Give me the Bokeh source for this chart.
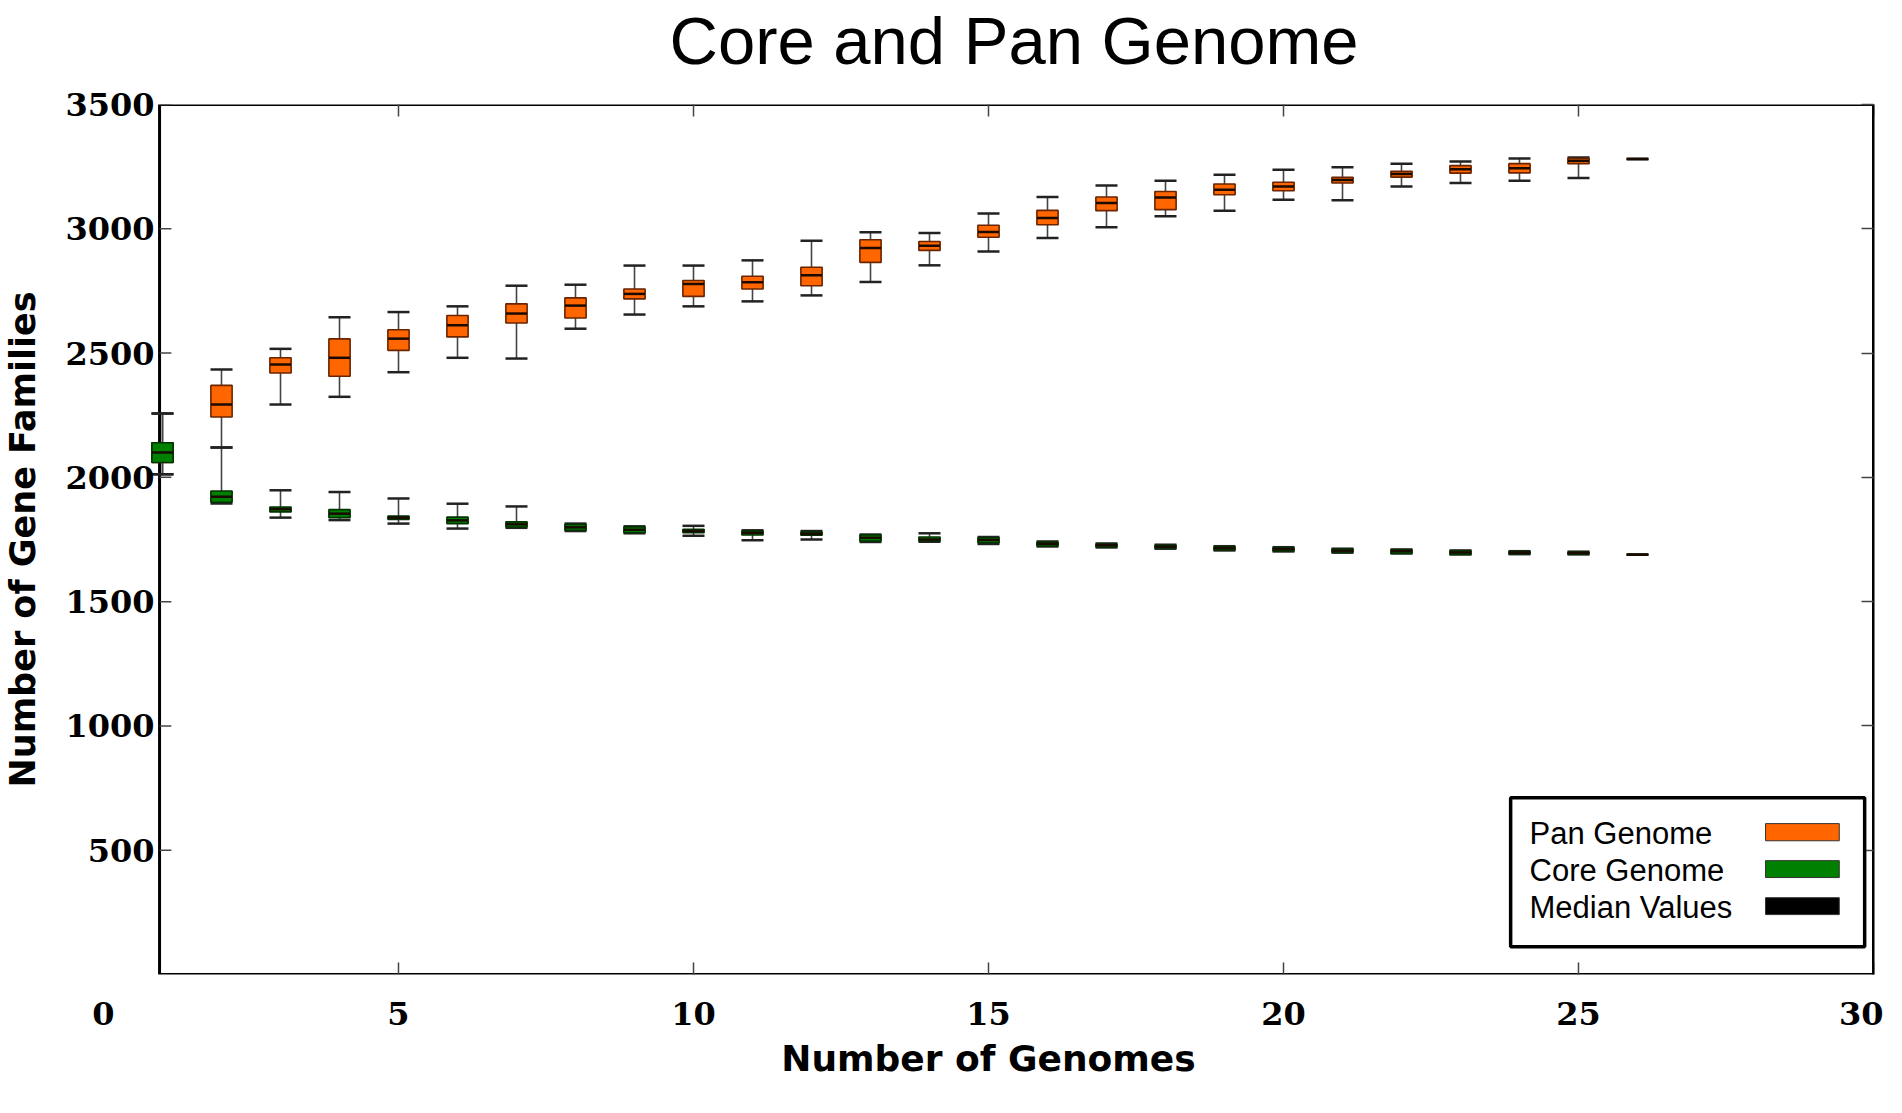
from bokeh.plotting import figure
from bokeh.models import (Range1d, FixedTicker, LinearAxis, CustomJSTickFormatter,
                          Label, BoxAnnotation, ColumnDataSource)
from bokeh.embed import file_html
from bokeh.resources import INLINE

# ---------------- data ----------------
genomes = list(range(1, 27))

pan_low = [2012, 2120, 2293, 2324, 2423, 2481, 2478, 2598, 2655, 2688, 2708, 2732, 2786,
           2853, 2909, 2963, 3006, 3050, 3073, 3117, 3115, 3170, 3184, 3193, 3204, 3281]
pan_q1 = [2060, 2243, 2420, 2407, 2511, 2565, 2621, 2641, 2718, 2728, 2758, 2771, 2865,
          2913, 2966, 3016, 3073, 3077, 3137, 3153, 3184, 3208, 3224, 3225, 3262, 3281]
pan_med = [2100, 2293, 2454, 2481, 2558, 2612, 2659, 2691, 2738, 2778, 2785, 2813, 2923,
           2932, 2987, 3043, 3104, 3126, 3157, 3170, 3196, 3220, 3240, 3244, 3274, 3281]
pan_q3 = [2139, 2370, 2481, 2557, 2594, 2651, 2698, 2722, 2758, 2792, 2809, 2845, 2956,
          2949, 3014, 3074, 3128, 3150, 3180, 3187, 3207, 3231, 3254, 3262, 3284, 3281]
pan_high = [2257, 2434, 2517, 2644, 2665, 2688, 2771, 2775, 2852, 2852, 2873, 2952, 2986,
            2983, 3061, 3128, 3174, 3193, 3217, 3237, 3248, 3262, 3271, 3283, 3287, 3281]

core_low = [2012, 1895, 1838, 1828, 1814, 1794, 1797, 1784, 1775, 1765, 1747, 1750, 1740,
            1741, 1732, 1722, 1718, 1713, 1706, 1702, 1697, 1694, 1690, 1691, 1690, 1689]
core_q1 = [2060, 1900, 1861, 1838, 1831, 1814, 1800, 1787, 1777, 1777, 1768, 1767, 1744,
           1744, 1737, 1724, 1720, 1715, 1708, 1704, 1699, 1694, 1690, 1692, 1691, 1689]
core_med = [2100, 1922, 1872, 1854, 1838, 1827, 1811, 1799, 1789, 1784, 1777, 1773, 1757,
            1750, 1748, 1733, 1727, 1721, 1715, 1711, 1705, 1703, 1698, 1697, 1696, 1689]
core_q3 = [2139, 1945, 1881, 1870, 1844, 1840, 1821, 1811, 1800, 1791, 1784, 1780, 1768,
           1760, 1757, 1740, 1732, 1727, 1721, 1717, 1712, 1709, 1705, 1702, 1700, 1689]
core_high = [2257, 2120, 1948, 1941, 1915, 1894, 1883, 1814, 1803, 1805, 1787, 1784, 1770,
             1775, 1760, 1742, 1734, 1729, 1723, 1719, 1713, 1710, 1706, 1703, 1701, 1689]

x_ticks = [0, 5, 10, 15, 20, 25, 30]
y_ticks = [500, 1000, 1500, 2000, 2500, 3000, 3500]
legend_labels = ["Pan Genome", "Core Genome", "Median Values"]

# ---------------- styles / layout ----------------
PAN_FILL, PAN_EDGE = "#FF6600", "#6a2400"
CORE_FILL, CORE_EDGE = "#008000", "#003300"
TICK_FONT = "DejaVu Serif"
LABEL_FONT = "DejaVu Sans"
SPINE_X = 0.95      # where the original drew its left spine
TICK_LEN = 0.2      # inward tick length on the left spine (x units)

p = figure(frame_width=1770, frame_height=870,
           x_range=Range1d(0, 30), y_range=Range1d(0, 3500),
           output_backend="svg", toolbar_location=None,
           min_border_left=98, min_border_top=103, min_border_right=10, min_border_bottom=110,
           title="Core and Pan Genome")
p.grid.visible = False
p.outline_line_color = None
p.background_fill_color = "white"
p.border_fill_color = "white"

p.title.text_font = "Liberation Sans"
p.title.text_font_size = "67px"
p.title.text_font_style = "normal"
p.title.align = "left"
p.title.offset = 566
p.title.standoff = 0
p.title.text_color = "black"

blank = CustomJSTickFormatter(code="return ''")

# left axis: labels only (sit right of the frame edge, left of the spine)
ya = p.yaxis[0]
ya.ticker = FixedTicker(ticks=y_ticks)
ya.axis_line_color = None
ya.major_tick_line_color = None
ya.minor_tick_line_color = None
ya.major_tick_in = 0
ya.major_tick_out = 0
ya.major_label_standoff = -51
ya.major_label_text_font = TICK_FONT
ya.major_label_text_font_style = "bold"
ya.major_label_text_font_size = "32px"
ya.major_label_text_color = "black"
ya.axis_label = "Number of Gene Families"
ya.axis_label_text_font = LABEL_FONT
ya.axis_label_text_font_style = "bold"
ya.axis_label_text_font_size = "35px"
ya.axis_label_text_color = "black"
ya.axis_label_standoff = 19

# bottom axis: labels only
xa = p.xaxis[0]
xa.ticker = FixedTicker(ticks=x_ticks)
xa.axis_line_color = None
xa.major_tick_line_color = None
xa.minor_tick_line_color = None
xa.major_tick_in = 0
xa.major_tick_out = 0
xa.major_label_standoff = 27
xa.major_label_text_font = TICK_FONT
xa.major_label_text_font_style = "bold"
xa.major_label_text_font_size = "32px"
xa.major_label_text_color = "black"
xa.axis_label = "Number of Genomes"
xa.axis_label_text_font = LABEL_FONT
xa.axis_label_text_font_style = "bold"
xa.axis_label_text_font_size = "36px"
xa.axis_label_text_color = "black"
xa.axis_label_standoff = 10


def tick_axis(ticks, line_color=None, tick_in=12, tick_out=0, tick_color="#444444"):
    return LinearAxis(ticker=FixedTicker(ticks=ticks), formatter=blank,
                      major_tick_in=tick_in, major_tick_out=tick_out, minor_tick_line_color=None,
                      major_label_text_font_size="1px", major_label_standoff=0,
                      axis_line_color=line_color, axis_line_width=2,
                      major_tick_line_color=tick_color, major_tick_line_width=1.5)


# inward tick marks on bottom / top / right (the spine-free 0 tick is left out)
bottom_ticks = tick_axis(x_ticks[1:])
p.below.insert(0, bottom_ticks)
p.add_layout(tick_axis(x_ticks[1:]), "above")
# invisible spacer between the top ticks and the title
p.add_layout(tick_axis(x_ticks[1:], tick_in=0, tick_out=27, tick_color=None), "above")
p.add_layout(tick_axis(y_ticks, line_color="black"), "right")

# the axes box of the original (left spine at SPINE_X)
p.add_layout(BoxAnnotation(left=SPINE_X, right=x_ticks[-1], bottom=0, top=y_ticks[-1],
                           fill_alpha=0, line_color="black", line_width=3, line_alpha=1.0,
                           level="underlay"))
# inward ticks on the left spine
p.segment(x0=[SPINE_X] * len(y_ticks), x1=[SPINE_X + TICK_LEN] * len(y_ticks),
          y0=y_ticks, y1=y_ticks, line_color="#444444", line_width=1.5)


def draw_boxes(low, q1, med, q3, high, fill, edge):
    src = ColumnDataSource(dict(x=genomes, low=low, q1=q1, med=med, q3=q3, high=high))
    p.segment(x0="x", y0="q3", x1="x", y1="high", source=src, line_color="#444444", line_width=1.6)
    p.segment(x0="x", y0="low", x1="x", y1="q1", source=src, line_color="#444444", line_width=1.6)
    p.scatter(x="x", y="high", source=src, marker="dash", size=22, line_color="#222222", line_width=2.5)
    p.scatter(x="x", y="low", source=src, marker="dash", size=22, line_color="#222222", line_width=2.5)
    p.vbar(x="x", width=0.36, bottom="q1", top="q3", source=src,
           fill_color=fill, line_color=edge, line_width=1.6)
    p.scatter(x="x", y="med", source=src, marker="dash", size=21, line_color="#1a0a00", line_width=2.5)


draw_boxes(pan_low, pan_q1, pan_med, pan_q3, pan_high, PAN_FILL, PAN_EDGE)
draw_boxes(core_low, core_q1, core_med, core_q3, core_high, CORE_FILL, CORE_EDGE)

# ---------------- legend (text left, colour swatch right, as in the original) ----------------
p.add_layout(BoxAnnotation(left=23.85, right=29.85, bottom=112, top=711,
                           fill_color="white", fill_alpha=1.0,
                           line_color="black", line_width=3.5, line_alpha=1.0))
swatch_colors = [PAN_FILL, CORE_FILL, "black"]
label_y = [566, 418, 269]
swatch_rows = [(538, 607), (390, 458), (241, 309)]
for txt, col, ly, (b, t) in zip(legend_labels, swatch_colors, label_y, swatch_rows):
    p.add_layout(Label(x=24.17, y=ly, text=txt, text_font="Liberation Sans",
                       text_font_size="31px", text_baseline="middle", text_align="left",
                       text_color="black"))
    p.add_layout(BoxAnnotation(left=28.17, right=29.42, bottom=b, top=t,
                               fill_color=col, fill_alpha=1.0,
                               line_color="#333333", line_width=1, line_alpha=1.0))

open("out.html", "w").write(file_html(p, INLINE))
